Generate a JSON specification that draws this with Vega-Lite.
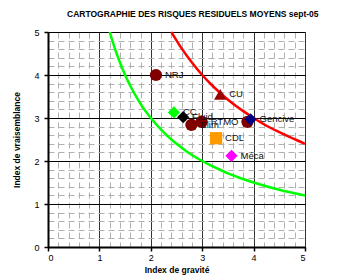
{
  "$schema": "https://vega.github.io/schema/vega-lite/v6.json",
  "width": 257,
  "height": 215,
  "autosize": {"type": "none"},
  "padding": {"left": 48, "top": 32, "right": 32, "bottom": 28},
  "background": "white",
  "config": {
    "font": "Liberation Sans",
    "view": {"stroke": "#888888", "strokeWidth": 1}
  },
  "title": {
    "text": "CARTOGRAPHIE DES RISQUES RESIDUELS MOYENS sept-05",
    "fontSize": 8.5,
    "fontWeight": "bold",
    "font": "Liberation Sans",
    "anchor": "start",
    "dx": 54,
    "offset": 9,
    "color": "#000"
  },
  "datasets": {
    "curves": [
      {"curve": "low", "g": 1.2, "v": 5.0},
      {"curve": "low", "g": 1.3, "v": 4.62},
      {"curve": "low", "g": 1.4, "v": 4.29},
      {"curve": "low", "g": 1.5, "v": 4.0},
      {"curve": "low", "g": 1.6, "v": 3.75},
      {"curve": "low", "g": 1.8, "v": 3.33},
      {"curve": "low", "g": 2.0, "v": 3.0},
      {"curve": "low", "g": 2.2, "v": 2.73},
      {"curve": "low", "g": 2.4, "v": 2.5},
      {"curve": "low", "g": 2.6, "v": 2.31},
      {"curve": "low", "g": 2.8, "v": 2.14},
      {"curve": "low", "g": 3.0, "v": 2.0},
      {"curve": "low", "g": 3.25, "v": 1.85},
      {"curve": "low", "g": 3.5, "v": 1.71},
      {"curve": "low", "g": 3.75, "v": 1.6},
      {"curve": "low", "g": 4.0, "v": 1.5},
      {"curve": "low", "g": 4.5, "v": 1.33},
      {"curve": "low", "g": 5.0, "v": 1.2},
      {"curve": "high", "g": 2.4, "v": 5.0},
      {"curve": "high", "g": 2.6, "v": 4.62},
      {"curve": "high", "g": 2.8, "v": 4.29},
      {"curve": "high", "g": 3.0, "v": 4.0},
      {"curve": "high", "g": 3.2, "v": 3.75},
      {"curve": "high", "g": 3.4, "v": 3.53},
      {"curve": "high", "g": 3.6, "v": 3.33},
      {"curve": "high", "g": 3.8, "v": 3.16},
      {"curve": "high", "g": 4.0, "v": 3.0},
      {"curve": "high", "g": 4.25, "v": 2.82},
      {"curve": "high", "g": 4.5, "v": 2.67},
      {"curve": "high", "g": 4.75, "v": 2.53},
      {"curve": "high", "g": 5.0, "v": 2.4}
    ],
    "risks": [
      {"name": "NRJ", "label": "NRJ", "g": 2.1, "v": 4.0},
      {"name": "CU", "label": "CU", "g": 3.35, "v": 3.55},
      {"name": "CC", "label": "CC", "g": 2.45, "v": 3.13},
      {"name": "Fluid", "label": "Fluid", "g": 2.63, "v": 3.02},
      {"name": "Elim", "label": "Elim", "g": 2.79, "v": 2.84},
      {"name": "RTMO", "label": "RTMO", "g": 2.99, "v": 2.91},
      {"name": "Gencive2", "label": "", "g": 3.88, "v": 2.91},
      {"name": "Gencive", "label": "Gencive", "g": 3.94, "v": 2.97},
      {"name": "CDL", "label": "CDL", "g": 3.27, "v": 2.53},
      {"name": "Méca", "label": "Méca", "g": 3.57, "v": 2.12}
    ]
  },
  "layer": [
    {
      "data": {"name": "curves"},
      "mark": {"type": "line", "strokeWidth": 2.5, "interpolate": "monotone"},
      "encoding": {
        "x": {"field": "g", "type": "quantitative", "scale": {"domain": [0, 5], "nice": false},
          "axis": {"orient": "bottom", "values": [0.2,0.4,0.6,0.8,1.2,1.4,1.6,1.8,2.2,2.4,2.6,2.8,3.2,3.4,3.6,3.8,4.2,4.4,4.6,4.8],
            "grid": true, "gridColor": "#b0b0b0", "gridDash": [6, 4], "gridWidth": 1, "gridOpacity": 1,
            "labels": false, "ticks": false, "domain": false, "title": null}},
        "y": {"field": "v", "type": "quantitative", "scale": {"domain": [0, 5], "nice": false},
          "axis": {"orient": "left", "values": [0.2,0.4,0.6,0.8,1.2,1.4,1.6,1.8,2.2,2.4,2.6,2.8,3.2,3.4,3.6,3.8,4.2,4.4,4.6,4.8],
            "grid": true, "gridColor": "#b0b0b0", "gridDash": [6, 4], "gridWidth": 1, "gridOpacity": 1,
            "labels": false, "ticks": false, "domain": false, "title": null}},
        "color": {"field": "curve", "type": "nominal", "scale": {"domain": ["low", "high"], "range": ["#00ff00", "#ff0000"]}, "legend": null},
        "detail": {"field": "curve"}
      }
    },
    {
      "data": {"name": "risks"},
      "mark": {"type": "point", "filled": true, "size": 150, "opacity": 1},
      "encoding": {
        "x": {"field": "g", "type": "quantitative", "scale": {"domain": [0, 5], "nice": false},
          "axis": {"orient": "bottom", "values": [0,1,2,3,4,5], "grid": true, "gridColor": "#333", "gridWidth": 1, "gridOpacity": 1,
            "domainColor": "#000", "domainWidth": 2, "tickColor": "#000", "tickSize": 4, "tickWidth": 1.5,
            "labelFont": "Liberation Sans", "labelFontSize": 9, "labelColor": "#000", "labelPadding": 2,
            "title": "Index de gravité", "titleFont": "Liberation Sans", "titleFontSize": 8.5, "titleFontWeight": "bold", "titleColor": "#000", "titlePadding": 3}},
        "y": {"field": "v", "type": "quantitative", "scale": {"domain": [0, 5], "nice": false},
          "axis": {"orient": "left", "values": [0,1,2,3,4,5], "grid": true, "gridColor": "#000", "gridWidth": 1, "gridOpacity": 1,
            "domainColor": "#000", "domainWidth": 2, "tickColor": "#000", "tickSize": 4, "tickWidth": 1.5,
            "labelFont": "Liberation Sans", "labelFontSize": 9, "labelColor": "#000", "labelPadding": 5,
            "title": "Index de vraisemblance", "titleFont": "Liberation Sans", "titleFontSize": 8.5, "titleFontWeight": "bold", "titleColor": "#000", "titlePadding": 12}},
        "color": {"field": "name", "type": "nominal", "legend": null,
          "scale": {"domain": ["NRJ", "CU", "CC", "Fluid", "Elim", "RTMO", "Gencive2", "Gencive", "CDL", "Méca"],
            "range": ["#800000", "#990000", "#00ff00", "#000000", "#800000", "#800000", "#800000", "#000080", "#ff9900", "#ff00ff"]}},
        "shape": {"field": "name", "type": "nominal", "legend": null,
          "scale": {"domain": ["NRJ", "CU", "CC", "Fluid", "Elim", "RTMO", "Gencive2", "Gencive", "CDL", "Méca"],
            "range": ["circle", "triangle-up", "diamond", "diamond", "circle", "circle", "circle", "diamond", "square", "diamond"]}}
      }
    },
    {
      "data": {"name": "risks"},
      "mark": {"type": "text", "align": "left", "baseline": "middle", "dx": 9, "fontSize": 9.5, "font": "Liberation Sans", "color": "#111"},
      "encoding": {
        "x": {"field": "g", "type": "quantitative", "scale": {"domain": [0, 5], "nice": false}, "axis": null},
        "y": {"field": "v", "type": "quantitative", "scale": {"domain": [0, 5], "nice": false}, "axis": null},
        "text": {"field": "label"}
      }
    }
  ],
  "resolve": {"axis": {"x": "independent", "y": "independent"}, "scale": {"color": "independent", "shape": "independent"}}
}
